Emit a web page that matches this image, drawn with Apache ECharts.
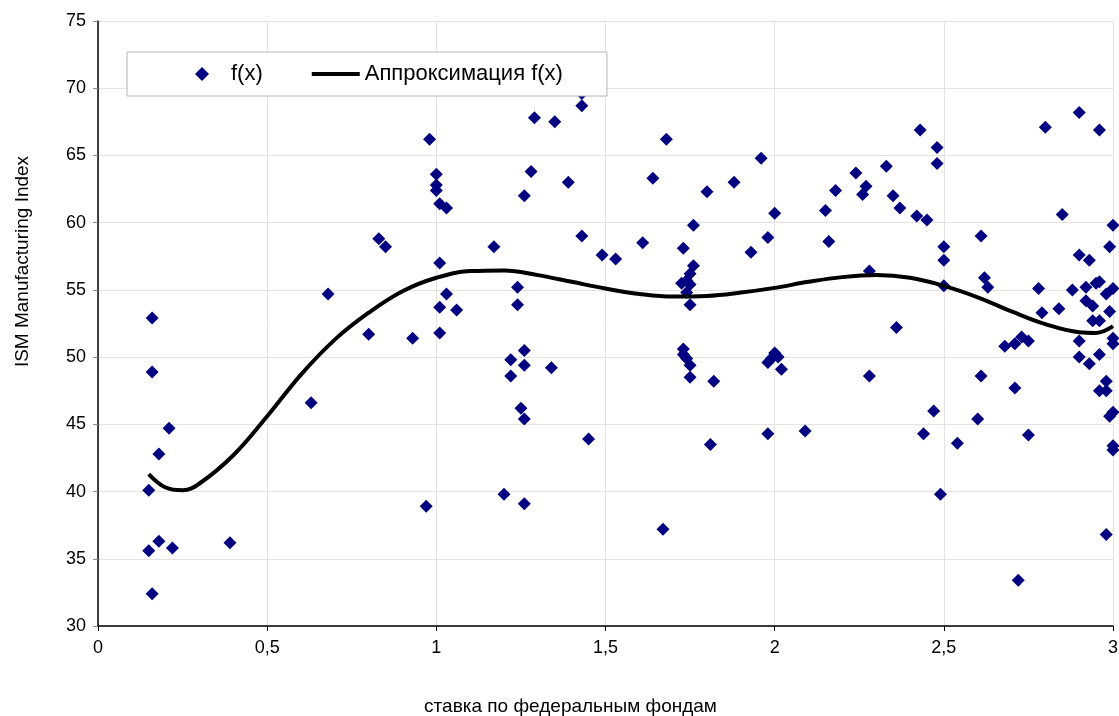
<!DOCTYPE html>
<html>
<head>
<meta charset="utf-8">
<script src="https://cdn.jsdelivr.net/npm/echarts@6/dist/echarts.min.js"></script>
<style>
html,body{margin:0;padding:0;background:#fff;}
#c{width:1119px;height:716px;}
</style>
</head>
<body>
<div id="c"></div>
<script>
// Scatter data: federal funds rate (x) vs ISM Manufacturing Index (y)
var pointX = [0.16,0.16,0.21,0.18,0.15,0.18,0.22,0.15,0.16,0.39,0.63,0.68,0.80,0.83,0.85,0.93,0.97,0.98,1.00,1.00,
  1.00,1.01,1.03,1.01,1.03,1.01,1.01,1.06,1.17,1.20,1.22,1.22,1.24,1.24,1.25,1.26,1.26,1.26,1.26,1.26,
  1.28,1.29,1.34,1.35,1.39,1.43,1.43,1.43,1.45,1.49,1.53,1.61,1.64,1.67,1.68,1.73,1.76,1.76,1.75,1.74,
  1.725,1.75,1.74,1.75,1.73,1.73,1.74,1.75,1.75,1.82,1.81,1.80,1.88,1.93,1.96,1.98,2.00,1.98,2.00,1.99,
  2.01,2.02,1.98,2.09,2.15,2.16,2.18,2.24,2.27,2.26,2.28,2.28,2.33,2.35,2.37,2.36,2.42,2.45,2.43,2.44,
  2.47,2.48,2.48,2.49,2.50,2.50,2.50,2.54,2.60,2.61,2.61,2.62,2.63,2.68,2.71,2.73,2.75,2.71,2.72,2.75,
  2.78,2.79,2.80,2.84,2.85,2.88,2.90,2.90,2.90,2.90,2.92,2.92,2.93,2.93,2.94,2.94,2.95,2.96,2.96,2.96,
  2.96,2.96,2.98,2.98,2.98,2.98,2.99,2.99,2.99,3.00,3.00,3.00,3.00,3.00,3.00,3.00];
var pointY = [52.9,48.9,44.7,42.8,40.1,36.3,35.8,35.6,32.4,36.2,46.6,54.7,51.7,58.8,58.2,51.4,38.9,66.2,63.6,62.8,
  62.4,61.4,61.1,57.0,54.7,53.7,51.8,53.5,58.2,39.8,49.8,48.6,55.2,53.9,46.2,45.4,50.5,49.4,39.1,62.0,
  63.8,67.8,49.2,67.5,63.0,68.7,69.6,59.0,43.9,57.6,57.3,58.5,63.3,37.2,66.2,58.1,59.8,56.8,56.2,55.7,
  55.5,55.4,54.8,53.9,50.6,50.2,49.9,49.4,48.5,48.2,43.5,62.3,63.0,57.8,64.8,58.9,60.7,49.6,50.3,49.9,
  50.0,49.1,44.3,44.5,60.9,58.6,62.4,63.7,62.7,62.1,56.4,48.6,64.2,62.0,61.1,52.2,60.5,60.2,66.9,44.3,
  46.0,65.6,64.4,39.8,58.2,57.2,55.3,43.6,45.4,59.0,48.6,55.9,55.2,50.8,51.0,51.5,51.2,47.7,33.4,44.2,
  55.1,53.3,67.1,53.6,60.6,55.0,68.2,57.6,51.2,50.0,55.2,54.2,57.2,49.5,53.8,52.7,55.5,55.6,52.7,50.2,
  66.9,47.5,54.7,48.2,47.5,36.8,58.2,53.4,45.6,59.8,55.1,51.4,51.0,45.9,43.4,43.1];

// Approximation curve
var curveX = [0.15,0.2,0.25,0.3,0.4,0.5,0.6,0.7,0.8,0.9,1.0,1.1,1.2,1.3,1.4,1.5,1.6,1.7,1.8,1.9,2.0,2.1,2.2,2.3,2.4,2.5,2.6,2.7,2.8,2.9,2.95,3.0];
var curveY = [41.3,40.3,40.1,40.6,42.7,45.6,48.7,51.3,53.3,54.9,55.9,56.4,56.45,56.1,55.6,55.1,54.7,54.5,54.55,54.8,55.15,55.6,55.95,56.1,55.9,55.3,54.45,53.4,52.45,51.85,51.8,52.3];

var xTicks = [0,0.5,1,1.5,2,2.5,3];
var yTicks = [30,35,40,45,50,55,60,65,70,75];

var seriesNames = ['f(x)','Аппроксимация f(x)'];
var xName = 'ставка по федеральным фондам';
var yName = 'ISM Manufacturing Index';

var scatterData = pointX.map(function(x,i){return [x,pointY[i]];});
var curveData = curveX.map(function(x,i){return [x,curveY[i]];});

var FONT = '"Liberation Sans", Arial, sans-serif';
var chart = echarts.init(document.getElementById('c'), null, {renderer:'canvas'});
chart.setOption({
  animation:false,
  backgroundColor:'#ffffff',
  textStyle:{fontFamily:FONT,color:'#000'},
  grid:{left:98,right:6,top:21,bottom:90,containLabel:false,outerBoundsMode:'none'},
  legend:{
    left:127, top:52,
    orient:'horizontal',
    backgroundColor:'#ffffff',
    borderColor:'#b4b4b4', borderWidth:1,
    padding:[11,44,11,68],
    itemWidth:48, itemHeight:14, itemGap:49,
    symbolKeepAspect:true,
    textStyle:{fontFamily:FONT,fontSize:22,color:'#000'},
    data:[
      {name:seriesNames[0], icon:'path://M7,0 L14,7 L7,14 L0,7 Z', itemStyle:{color:'#000080',opacity:1}},
      {name:seriesNames[1], icon:'path://M0,0 L48,0 L48,4 L0,4 Z', itemStyle:{color:'#000',opacity:1}}
    ]
  },
  xAxis:{
    type:'value', min:xTicks[0], max:xTicks[xTicks.length-1], interval:0.5,
    name:xName, nameLocation:'middle', nameGap:71,
    nameTextStyle:{fontFamily:FONT,fontSize:19,color:'#000',padding:[0,70,0,0]},
    axisLine:{show:true,lineStyle:{color:'#000',width:1.5}},
    axisTick:{show:true,inside:false,length:5,lineStyle:{color:'#000'}},
    axisLabel:{fontFamily:FONT,fontSize:18,color:'#000',margin:13,
      formatter:function(v){return String(v).replace('.',',');}},
    splitLine:{show:true,lineStyle:{color:'#e3e3e3',width:1}}
  },
  yAxis:{
    type:'value', min:yTicks[0], max:yTicks[yTicks.length-1], interval:5,
    name:yName, nameLocation:'middle', nameGap:66, nameRotate:90,
    nameTextStyle:{fontFamily:FONT,fontSize:19,color:'#000',padding:[0,0,0,124]},
    axisLine:{show:true,lineStyle:{color:'#000',width:1.5}},
    axisTick:{show:true,inside:false,length:5,lineStyle:{color:'#888'}},
    axisLabel:{fontFamily:FONT,fontSize:18,color:'#000',margin:12},
    splitLine:{show:true,lineStyle:{color:'#e3e3e3',width:1}}
  },
  series:[
    {
      name:seriesNames[0], type:'scatter', data:scatterData,
      symbol:'diamond', symbolSize:13,
      itemStyle:{color:'#000080',opacity:1}, z:3, clip:false
    },
    {
      name:seriesNames[1], type:'line', data:curveData,
      smooth:0.4, symbol:'none', showSymbol:false,
      lineStyle:{color:'#000',width:4}, itemStyle:{color:'#000'}, z:4
    }
  ]
});
</script>
</body>
</html>
